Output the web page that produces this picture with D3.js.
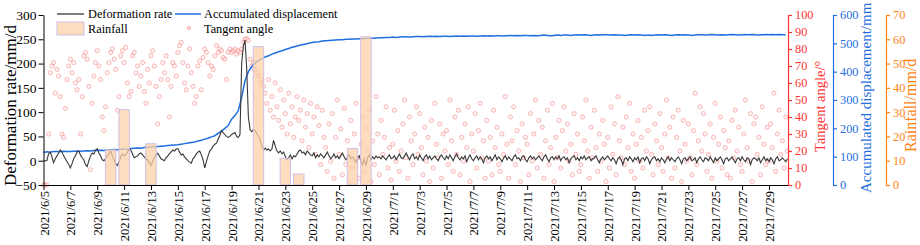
<!DOCTYPE html>
<html><head><meta charset="utf-8">
<script src="https://cdn.jsdelivr.net/npm/d3@7"></script>
<style>
body{margin:0;background:#fff;}
svg text{font-family:"Liberation Serif","Times New Roman",serif;}
</style></head><body>
<svg id="chart" width="920" height="245"></svg>
<script>
// ---------- DATA ----------
const seriesStart = [2021, 5, 5]; // 2021-06-05 00:00
const rateStepHours = 3;
// Deformation rate (mm/d), 8 readings per day
const rateValues = [
0,0,0,14,18,8,-4,4,
10,16,22,18,10,4,-2,-8,
-15,-6,4,10,18,20,12,6,
2,-8,-12,0,10,16,14,22,
25,16,10,2,0,4,10,14,
20,10,2,-6,-10,-2,8,14,
10,12,18,24,22,14,6,8,
10,14,16,12,8,4,2,-4,
-10,-2,6,12,15,10,4,2,
0,6,10,14,18,22,20,24,
25,18,12,14,8,4,0,-3,
-5,4,8,14,18,20,12,2,
-15,-2,10,20,24,30,34,36,
44,52,62,58,54,50,48,50,
54,56,58,50,48,54,200,236,
248,190,90,64,60,64,62,56,
50,44,28,22,26,22,24,20,
24,42,30,20,16,20,14,18,
8,2,6,12,4,10,8,14,
20,22,16,18,12,20,16,12,
10,16,6,12,8,14,10,6,
12,18,10,4,8,14,6,10,
4,10,16,8,2,6,12,4,
8,2,-4,6,10,0,-8,4,
-10,6,12,2,8,4,10,6,
8,4,10,6,2,8,12,4,
6,10,2,8,14,6,4,10,
16,8,2,10,14,4,8,2,
12,6,0,8,12,4,10,2,
6,10,4,0,8,12,6,2,
10,4,12,6,0,8,14,6,
2,8,4,10,-2,6,12,4,
0,6,10,2,8,4,-4,6,
10,4,8,0,6,12,2,8,
4,-2,6,10,2,8,4,0,
8,12,4,6,0,8,10,2,
-2,6,10,4,8,2,6,10,
4,0,8,12,4,-2,6,8,
2,8,4,10,0,6,8,2,
6,-4,4,8,10,2,6,0,
8,4,10,2,6,8,0,4,
6,10,2,-4,4,8,2,6,
10,4,0,6,2,-6,4,8,
2,-8,4,6,0,8,4,-2,
6,2,8,-4,4,6,0,8,
4,-6,2,6,8,0,4,-2,
6,2,-4,4,8,0,6,2,
-2,4,8,2,-6,4,6,0,
4,8,0,2,6,-4,4,8,
2,-2,6,4,0,8,2,-4,
6,0,4,8,2,-6,4,6,
0,4,8,2,-4,4,6,0,
8,2,-2,6,4,-8,2,6,
4,0,6,-4,2,8,0,4,
-2,6,2,-6,4,8,0,2,
6,2,-2,4
];
const angleStepHours = 3;
// Tangent angle (degrees), 8 readings per day
const angleValues = [
0,0,0,30,66,70,72,54,
68,64,52,30,28,45,62,70,
74,66,72,60,56,62,30,52,
76,78,74,58,9,48,64,72,
79,70,62,40,32,46,66,72,
78,80,74,68,44,52,76,79,
72,81,60,52,55,76,78,66,
70,58,64,72,55,48,68,60,
76,79,70,58,36,52,62,72,
66,76,62,40,58,72,70,64,
78,82,84,72,60,56,70,80,
66,58,48,52,70,73,56,75,
80,78,72,64,70,68,76,82,
78,80,79,75,74,62,78,80,
78,79,80,77,79,78,80,84,
86,86,85,74,70,72,68,66,
64,60,62,58,54,48,62,44,
52,40,60,46,38,56,34,50,
42,30,54,36,46,28,40,52,
38,44,26,50,34,42,22,48,
30,40,18,46,35,12,44,28,
22,8,36,14,42,4,28,50,
18,33,6,45,12,26,2,38,
10,30,48,16,4,24,40,8,
34,20,44,2,26,12,52,30,
6,38,18,28,46,10,22,3,
24,44,14,32,8,20,36,50,
16,4,40,26,12,30,46,18,
42,22,6,34,14,28,2,38,
10,48,24,16,36,4,30,20,
32,12,50,26,8,40,18,44,
6,28,14,36,22,46,2,30,
20,42,10,32,48,16,26,4,
38,14,28,6,44,22,34,12,
8,30,18,52,24,4,40,26,
46,12,32,20,2,36,16,28,
24,6,42,14,30,50,10,38,
18,34,4,26,44,12,22,48,
2,28,16,38,10,32,46,20,
36,14,24,6,42,18,30,8,
12,40,26,50,20,4,34,16,
44,22,8,30,14,38,24,2,
28,10,46,18,36,6,52,26,
16,34,12,40,22,48,8,30,
4,24,38,14,28,10,44,20,
32,46,18,6,36,26,12,42,
22,8,30,50,16,34,4,40,
10,28,44,20,2,38,24,14,
36,16,6,32,54,12,26,46,
20,42,30,8,18,36,4,28,
48,14,24,40,10,32,22,6,
26,4,38,16,44,20,34,12,
8,30,50,22,14,42,2,36,
40,18,28,6,46,24,12,34,
14,36,22,54,8,30,44,18,
26,10,40,20
];
const dispStepHours = 6;
// Accumulated displacement (mm), 4 readings per day
const dispValues = [
115,117,116,118, 118,117,119,118, 118,119,120,119, 120,121,120,122,
122,123,122,124, 124,125,124,126, 126,127,129,130, 131,130,132,133,
134,135,136,137, 138,139,140,141, 142,144,146,148, 150,152,155,158,
162,165,170,174, 182,190,200,210, 232,245,262,310, 368,400,418,430,
440,446,452,456, 462,466,470,474, 478,482,486,489, 492,495,498,500,
503,505,506,508, 509,510,511,512, 513,513,514,514, 515,515,516,516,
517,518,518,519, 520,520,521,521,
522,521,522,523, 523,522,523,524, 524,523,524,525, 524,525,524,525,
525,524,525,526, 525,526,525,526, 526,525,526,527, 526,527,526,527,
527,526,527,528, 527,528,527,528, 528,527,528,527, 528,529,528,527,
528,529,528,529, 529,528,529,530, 529,530,529,528, 529,530,529,530,
530,529,530,529, 529,528,529,530, 529,530,529,528, 529,528,529,530,
529,530,529,528, 529,530,529,530, 529,528,529,530, 530,529,530,531,
530,529,530,529, 530,531,530,529, 530,531,530,531, 530,529,530,531,
530,531,530,531, 530,530
];
// Rainfall (mm/d)
const rainDates = ["2021/6/10","2021/6/11","2021/6/13","2021/6/21","2021/6/23","2021/6/24","2021/6/28","2021/6/29"];
const rainValues = [14.5, 31, 17, 57, 11, 4.5, 15, 61];
// Axis ticks
const xTickLabels = ["2021/6/5","2021/6/7","2021/6/9","2021/6/11","2021/6/13","2021/6/15","2021/6/17","2021/6/19",
  "2021/6/21","2021/6/23","2021/6/25","2021/6/27","2021/6/29","2021/7/1","2021/7/3","2021/7/5","2021/7/7",
  "2021/7/9","2021/7/11","2021/7/13","2021/7/15","2021/7/17","2021/7/19","2021/7/21","2021/7/23","2021/7/25",
  "2021/7/27","2021/7/29"];
const rateTicks = [-50,0,50,100,150,200,250,300];
const angleTicks = [0,10,20,30,40,50,60,70,80,90,100];
const dispTicks = [0,100,200,300,400,500,600];
const rainTicks = [0,10,20,30,40,50,60,70];

// ---------- HELPERS ----------
const HOUR = 3600*1000, DAY = 24*HOUR;
const t0 = new Date(seriesStart[0], seriesStart[1], seriesStart[2]).getTime();
const parseSlash = s => { const [y,m,d] = s.split("/").map(Number); return new Date(y, m-1, d); };
const series = (vals, step) => vals.map((v,i) => ({t: new Date(t0 + i*step*HOUR), v}));

const svg = d3.select("#chart");
const L = 43.5, R = 788, T = 15, B = 185;

const x = d3.scaleTime().domain([new Date(2021,5,5), new Date(2021,6,30,10)]).range([L, R]);
const yRate = d3.scaleLinear().domain([-50,300]).range([B,T]);
const yAngle = d3.scaleLinear().domain([0,100]).range([B,T]);
const yDisp = d3.scaleLinear().domain([0,600]).range([B,T]);
const yRain = d3.scaleLinear().domain([0,70]).range([B,T]);

const RED = "#ff3333", BLUE = "#1f6fe0", ORANGE = "#ff8412";

// ---------- MARKS ----------
// Tangent angle scatter
svg.append("g").selectAll("circle").data(series(angleValues, angleStepHours)).join("circle")
  .attr("cx", d => x(d.t)).attr("cy", d => yAngle(d.v)).attr("r", 2.1)
  .attr("fill", "#ffe0e0").attr("fill-opacity", 0.35)
  .attr("stroke", "#f05a5a").attr("stroke-opacity", 0.5).attr("stroke-width", 0.8);

// Accumulated displacement
svg.append("path").datum(series(dispValues, dispStepHours))
  .attr("fill","none").attr("stroke", BLUE).attr("stroke-width", 1.5)
  .attr("d", d3.line().x(d => x(d.t)).y(d => yDisp(d.v)));

// Deformation rate
svg.append("path").datum(series(rateValues, rateStepHours))
  .attr("fill","none").attr("stroke", "#383838").attr("stroke-width", 1.1)
  .attr("d", d3.line().x(d => x(d.t)).y(d => yRate(d.v)));

// Rainfall bars
const halfW = 0.39*DAY;
svg.append("g").selectAll("rect").data(rainDates.map((s,i) => ({t: parseSlash(s), v: rainValues[i]}))).join("rect")
  .attr("x", d => x(new Date(d.t.getTime() - halfW)))
  .attr("width", d => x(new Date(d.t.getTime() + halfW)) - x(new Date(d.t.getTime() - halfW)))
  .attr("y", d => yRain(d.v)).attr("height", d => yRain(0) - yRain(d.v))
  .attr("fill", "#fcd2a8").attr("fill-opacity", 0.75)
  .attr("stroke", "#cbbbe8").attr("stroke-width", 0.9);

// ---------- AXES ----------
const tickDates = xTickLabels.map(parseSlash);
const gx = svg.append("g").attr("transform", `translate(0,${B})`)
  .call(d3.axisBottom(x).tickValues(tickDates).tickFormat((d,i) => xTickLabels[i]).tickSize(5).tickSizeOuter(0));
gx.selectAll("text").attr("transform","rotate(-90)").attr("text-anchor","end")
  .attr("x",-6).attr("y",0).attr("dy","0.36em").attr("font-size",12.5).attr("fill","#000");
gx.selectAll("line,path").attr("stroke","#000");

const gl = svg.append("g").attr("transform", `translate(${L},0)`)
  .call(d3.axisLeft(yRate).tickValues(rateTicks).tickSize(5).tickPadding(2).tickSizeOuter(0));
gl.selectAll("text").attr("font-size",13.5).attr("fill","#000");
gl.selectAll("line,path").attr("stroke","#000");

function rightAxis(scale, ticks, xpos, color){
  const g = svg.append("g").attr("transform", `translate(${xpos},0)`)
    .call(d3.axisRight(scale).tickValues(ticks).tickSize(4).tickPadding(3).tickSizeOuter(0));
  g.selectAll("text").attr("font-size",12.3).attr("fill",color);
  g.selectAll("line,path").attr("stroke",color).attr("stroke-width",1.2);
}
rightAxis(yAngle, angleTicks, R, RED);
rightAxis(yDisp, dispTicks, 833, BLUE);
rightAxis(yRain, rainTicks, 886, ORANGE);

// Axis titles
function vTitle(txt, xb, yb, size, color){
  svg.append("text").attr("transform", `translate(${xb},${yb}) rotate(-90)`)
    .attr("text-anchor","start").attr("font-size",size).attr("fill",color).text(txt);
}
vTitle("Deformation rate/mm/d", 15.5, 186, 17, "#000");
vTitle("Tangent angle/°", 825, 152, 14.5, RED);
vTitle("Accumulated displacement/mm", 871, 193, 15, BLUE);
vTitle("Rainfall/mm/d", 916, 152, 16, ORANGE);

// ---------- LEGEND ----------
const lg = svg.append("g").attr("font-size",12.3);
lg.append("line").attr("x1",57).attr("x2",84).attr("y1",14).attr("y2",14).attr("stroke","#383838").attr("stroke-width",1.3);
lg.append("text").attr("x",88).attr("y",18).text("Deformation rate");
lg.append("line").attr("x1",175).attr("x2",201).attr("y1",14).attr("y2",14).attr("stroke",BLUE).attr("stroke-width",1.5);
lg.append("text").attr("x",204).attr("y",18).text("Accumulated displacement");
lg.append("rect").attr("x",57).attr("y",22).attr("width",27).attr("height",13)
  .attr("fill","#fcd2a8").attr("fill-opacity",0.75).attr("stroke","#cbbbe8").attr("stroke-width",0.9);
lg.append("text").attr("x",88).attr("y",33).text("Rainfall");
lg.append("circle").attr("cx",189).attr("cy",28).attr("r",1.6)
  .attr("fill","#ffe0e0").attr("stroke","#f05a5a").attr("stroke-opacity",0.6).attr("stroke-width",0.8);
lg.append("text").attr("x",204).attr("y",33).text("Tangent angle");
</script>
</body></html>
